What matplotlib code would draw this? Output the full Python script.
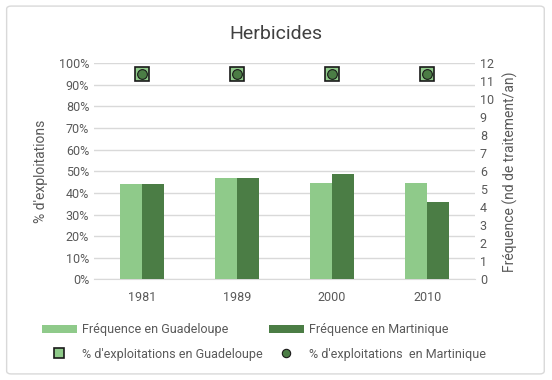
import matplotlib.pyplot as plt
from matplotlib.patches import FancyBboxPatch
from matplotlib.lines import Line2D
import numpy as np

plt.rcParams['font.family'] = ['Roboto', 'DejaVu Sans']

annees = ['1981', '1989', '2000', '2010']
freq_guadeloupe = [5.27, 5.65, 5.37, 5.37]
freq_martinique = [5.27, 5.65, 5.87, 4.27]
pct_guadeloupe = [0.95, 0.95, 0.95, 0.95]
pct_martinique = [0.95, 0.95, 0.95, 0.95]

vert_clair = '#8fca8a'
vert_fonce = '#4b7d45'
gris = '#595959'

fig = plt.figure(figsize=(5.52, 3.80), dpi=100)
fig.patches.append(FancyBboxPatch((0.012, 0.016), 0.974, 0.968, boxstyle='round,pad=0,rounding_size=0.008',
                                  transform=fig.transFigure, facecolor='white', edgecolor='#d9d9d9',
                                  lw=1, zorder=-10))

ax = fig.add_axes([0.1703, 0.2645, 0.6902, 0.5695])
ax.patch.set_visible(False)
ax2 = ax.twinx()

x = np.arange(len(annees))
w = 0.23
b1 = ax2.bar(x - w / 2, freq_guadeloupe, w, color=vert_clair, zorder=2)
b2 = ax2.bar(x + w / 2, freq_martinique, w, color=vert_fonce, zorder=2)
ax2.set_ylim(0, 12)
ax2.set_yticks(range(0, 13))

ax.set_ylim(0, 1)
ax.set_yticks(np.arange(0, 1.01, 0.1))
ax.set_yticklabels([f'{int(round(v * 100))}%' for v in np.arange(0, 1.01, 0.1)])
ax.set_xlim(-0.5, 3.5)
ax.set_xticks(x)
ax.set_xticklabels(annees)
ax.grid(axis='y', color='#d9d9d9', lw=1)
ax.set_axisbelow(True)

# markers drawn on the bar axis so they sit on top
ax2.plot(x, np.array(pct_guadeloupe) * 12, ls='none', marker='s', ms=10, mfc=vert_clair,
         mec='#1a1a1a', mew=1.2, zorder=4)
ax2.plot(x, np.array(pct_martinique) * 12, ls='none', marker='o', ms=7, mfc=vert_fonce,
         mec='#1a1a1a', mew=0.8, zorder=5)

for a in (ax, ax2):
    for s in a.spines.values():
        s.set_visible(False)
    a.tick_params(length=0, colors=gris, labelsize=9)
ax.spines['bottom'].set_visible(True)
ax.spines['bottom'].set_color('#d9d9d9')
ax.tick_params(axis='x', pad=8)

ax.set_ylabel("% d'exploitations", color=gris, fontsize=10, labelpad=8)
ax2.set_ylabel('Fréquence (nd de traitement/an)', color=gris, fontsize=10, labelpad=6)

fig.text(0.5, 0.91, 'Herbicides', ha='center', va='center', fontsize=14, color='#404040')

m1 = Line2D([], [], ls='none', marker='s', ms=6.5, mfc=vert_clair, mec='#1a1a1a', mew=1.2)
m2 = Line2D([], [], ls='none', marker='o', ms=6, mfc=vert_fonce, mec='#1a1a1a', mew=0.8)
handles = [b1, m1, b2, m2]
labels = ['Fréquence en Guadeloupe', "% d'exploitations en Guadeloupe",
          'Fréquence en Martinique', "% d'exploitations  en Martinique"]
leg = fig.legend(handles, labels, ncol=2, loc='center',
                 bbox_to_anchor=(0.478, 0.1), frameon=False, fontsize=9, labelcolor=gris,
                 columnspacing=0.5, handlelength=2.8, handletextpad=0.4, labelspacing=0.9)

fig.savefig('out.png', dpi=100)
